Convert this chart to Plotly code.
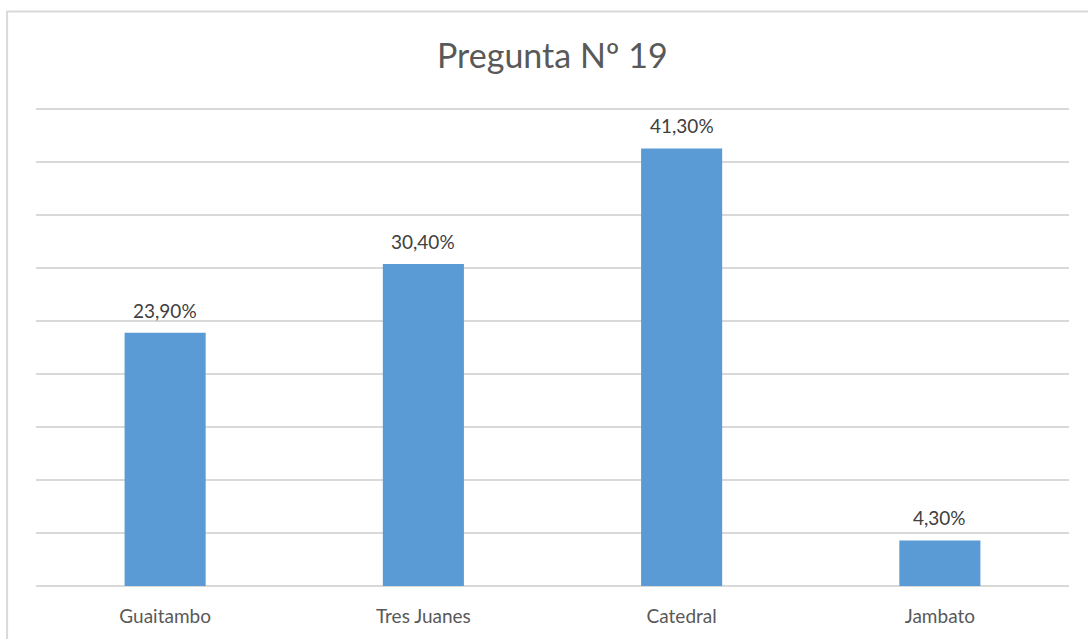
import plotly.graph_objects as go

categories = ["Guaitambo", "Tres Juanes", "Catedral", "Jambato"]
values = [23.9, 30.4, 41.3, 4.3]
labels = ["23,90%", "30,40%", "41,30%", "4,30%"]
title_text = "Pregunta Nº 19"

FONT = "Lato, 'Open Sans', sans-serif"

fig = go.Figure()
fig.add_trace(go.Bar(
    x=categories, y=values,
    marker=dict(color="#5B9BD5", line=dict(width=0)),
    width=0.314,
    hoverinfo="skip",
))

for c, v, t in zip(categories, values, labels):
    fig.add_annotation(
        x=c, y=v, text=t, showarrow=False,
        yanchor="bottom", yshift=9,
        font=dict(family=FONT, size=19, color="#404040"),
    )

fig.add_annotation(
    xref="paper", yref="paper", x=0.5, y=1, yshift=50,
    text=title_text, showarrow=False, yanchor="middle",
    font=dict(family=FONT, size=34, color="#595959"),
)

# chart border (right/bottom edges lie beyond the canvas)
fig.add_shape(
    type="rect", xref="paper", yref="paper",
    x0=-0.028, x1=1.1, y0=-0.3, y1=1.192,
    line=dict(color="#d9d9d9", width=2), fillcolor="rgba(0,0,0,0)", layer="below",
)

fig.update_layout(
    width=1088, height=639,
    margin=dict(l=36, r=19, t=104, b=53),
    paper_bgcolor="white", plot_bgcolor="white",
    showlegend=False,
    bargap=0.686,
    xaxis=dict(
        showgrid=False, showline=False, zeroline=False,
        ticks="", tickfont=dict(family=FONT, size=19, color="#595959"),
        ticklabelstandoff=17,
    ),
    yaxis=dict(
        range=[0, 45.5], tickvals=[0, 5, 10, 15, 20, 25, 30, 35, 40, 45],
        showticklabels=False,
        showgrid=True, gridcolor="#d9d9d9", gridwidth=1.5,
        zeroline=True, zerolinecolor="#d9d9d9", zerolinewidth=1.5,
        showline=False,
    ),
)

fig.write_html("out.html")
